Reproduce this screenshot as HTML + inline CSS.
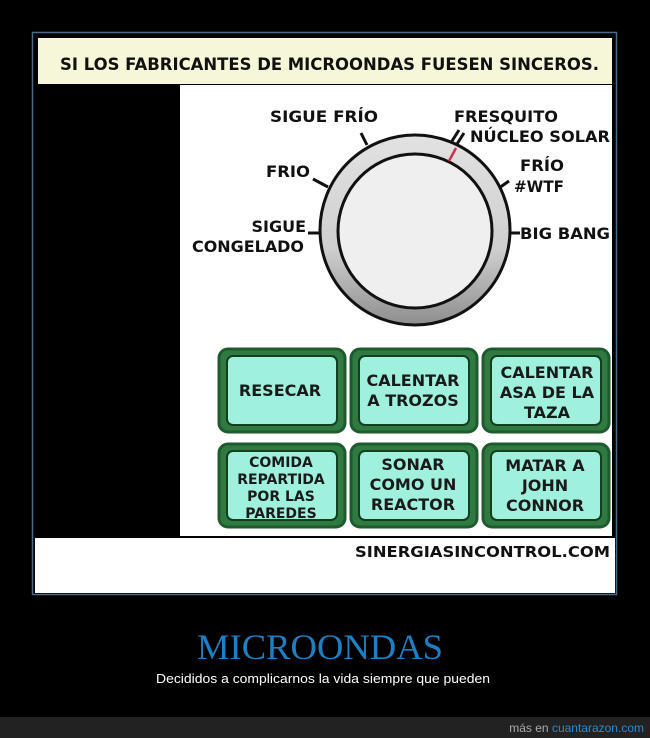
<!DOCTYPE html>
<html><head><meta charset="utf-8"><style>
html,body{margin:0;padding:0;background:#000;width:650px;height:738px;overflow:hidden}
svg{display:block}
</style></head><body>
<svg width="650" height="738" viewBox="0 0 650 738" xmlns="http://www.w3.org/2000/svg" font-family="DejaVu Sans, Liberation Sans, sans-serif" font-weight="bold">
<defs>
<linearGradient id="ring" x1="0" y1="0" x2="0" y2="1">
<stop offset="0" stop-color="#e2e2e2"/><stop offset="0.6" stop-color="#cfcfcf"/><stop offset="1" stop-color="#8e8e8e"/>
</linearGradient>
</defs>
<rect x="0" y="0" width="650" height="738" fill="#000"/>
<rect x="32.5" y="32.5" width="584" height="562" fill="none" stroke="#4a6a8a" stroke-width="1.5"/>
<rect x="38" y="38" width="574" height="46" fill="#f5f7d8"/>
<text x="60" y="70" font-size="17" fill="#111" textLength="539" lengthAdjust="spacingAndGlyphs">SI LOS FABRICANTES DE MICROONDAS FUESEN SINCEROS.</text>
<rect x="180" y="85" width="432" height="451" fill="#fff"/>
<rect x="35" y="538" width="580" height="55" fill="#fff"/>
<text x="610" y="557" font-size="15" fill="#111" text-anchor="end" textLength="255" lengthAdjust="spacingAndGlyphs">SINERGIASINCONTROL.COM</text>
<circle cx="415" cy="230" r="95" fill="url(#ring)" stroke="#111" stroke-width="3"/>
<circle cx="415" cy="231" r="77" fill="#efefef" stroke="#111" stroke-width="3"/>
<line x1="449" y1="161" x2="456" y2="148" stroke="#d0304a" stroke-width="2.5"/>
<g stroke="#111" stroke-width="3">
<line x1="361" y1="133" x2="367" y2="145"/>
<line x1="313" y1="179" x2="328" y2="187"/>
<line x1="308" y1="233" x2="320" y2="233"/>
<line x1="452" y1="141" x2="459" y2="130"/>
<line x1="457" y1="144" x2="464" y2="133"/>
<line x1="499" y1="188" x2="509" y2="181"/>
<line x1="511" y1="233" x2="520" y2="233"/>
</g>
<g font-size="16" fill="#111">
<text x="270" y="122" textLength="108" lengthAdjust="spacingAndGlyphs">SIGUE FRÍO</text>
<text x="266" y="177" textLength="44" lengthAdjust="spacingAndGlyphs">FRIO</text>
<text x="306" y="232" text-anchor="end">SIGUE</text>
<text x="304" y="252" text-anchor="end" textLength="112" lengthAdjust="spacingAndGlyphs">CONGELADO</text>
<text x="454" y="122" textLength="104" lengthAdjust="spacingAndGlyphs">FRESQUITO</text>
<text x="470" y="142" textLength="140" lengthAdjust="spacingAndGlyphs">NÚCLEO SOLAR</text>
<text x="520" y="171" textLength="44" lengthAdjust="spacingAndGlyphs">FRÍO</text>
<text x="514" y="192" textLength="50" lengthAdjust="spacingAndGlyphs">#WTF</text>
<text x="520" y="239" textLength="90" lengthAdjust="spacingAndGlyphs">BIG BANG</text>
</g>
<g fill="#9ff0dc" stroke="#1f5a2e">
<g stroke-width="3">
<rect x="219" y="349" width="126" height="83" rx="9" fill="#2f7a40"/>
<rect x="351" y="349" width="126" height="83" rx="9" fill="#2f7a40"/>
<rect x="483" y="349" width="126" height="83" rx="9" fill="#2f7a40"/>
<rect x="219" y="444" width="126" height="83" rx="9" fill="#2f7a40"/>
<rect x="351" y="444" width="126" height="83" rx="9" fill="#2f7a40"/>
<rect x="483" y="444" width="126" height="83" rx="9" fill="#2f7a40"/>
</g>
<g stroke-width="2" stroke="#153d20">
<rect x="227" y="356" width="110" height="69" rx="6"/>
<rect x="359" y="356" width="110" height="69" rx="6"/>
<rect x="491" y="356" width="110" height="69" rx="6"/>
<rect x="227" y="451" width="110" height="69" rx="6"/>
<rect x="359" y="451" width="110" height="69" rx="6"/>
<rect x="491" y="451" width="110" height="69" rx="6"/>
</g>
</g>
<g font-size="16" fill="#1a1a1a" text-anchor="middle">
<text x="280" y="396">RESECAR</text>
<text x="413" y="386">CALENTAR</text>
<text x="413" y="406">A TROZOS</text>
<text x="547" y="378">CALENTAR</text>
<text x="547" y="398">ASA DE LA</text>
<text x="547" y="418">TAZA</text>
<text x="281" y="467" font-size="14">COMIDA</text>
<text x="281" y="484" font-size="14">REPARTIDA</text>
<text x="281" y="501" font-size="14">POR LAS</text>
<text x="281" y="518" font-size="14">PAREDES</text>
<text x="413" y="470">SONAR</text>
<text x="413" y="490">COMO UN</text>
<text x="413" y="510">REACTOR</text>
<text x="545" y="471">MATAR A</text>
<text x="545" y="491">JOHN</text>
<text x="545" y="511">CONNOR</text>
</g>
<text x="320" y="659" font-family="Liberation Serif, serif" font-weight="normal" font-size="36" fill="#1d80c4" text-anchor="middle" textLength="246" lengthAdjust="spacingAndGlyphs">MICROONDAS</text>
<text x="156" y="683" font-family="Liberation Sans, sans-serif" font-weight="normal" font-size="13" fill="#fff" textLength="334" lengthAdjust="spacingAndGlyphs">Decididos a complicarnos la vida siempre que pueden</text>
<rect x="0" y="717" width="650" height="21" fill="#222"/>
<text x="644" y="732" font-family="Liberation Sans, sans-serif" font-weight="normal" font-size="12" text-anchor="end" fill="#aaa">más en <tspan fill="#2a8bd0">cuantarazon.com</tspan></text>
</svg>
</body></html>
